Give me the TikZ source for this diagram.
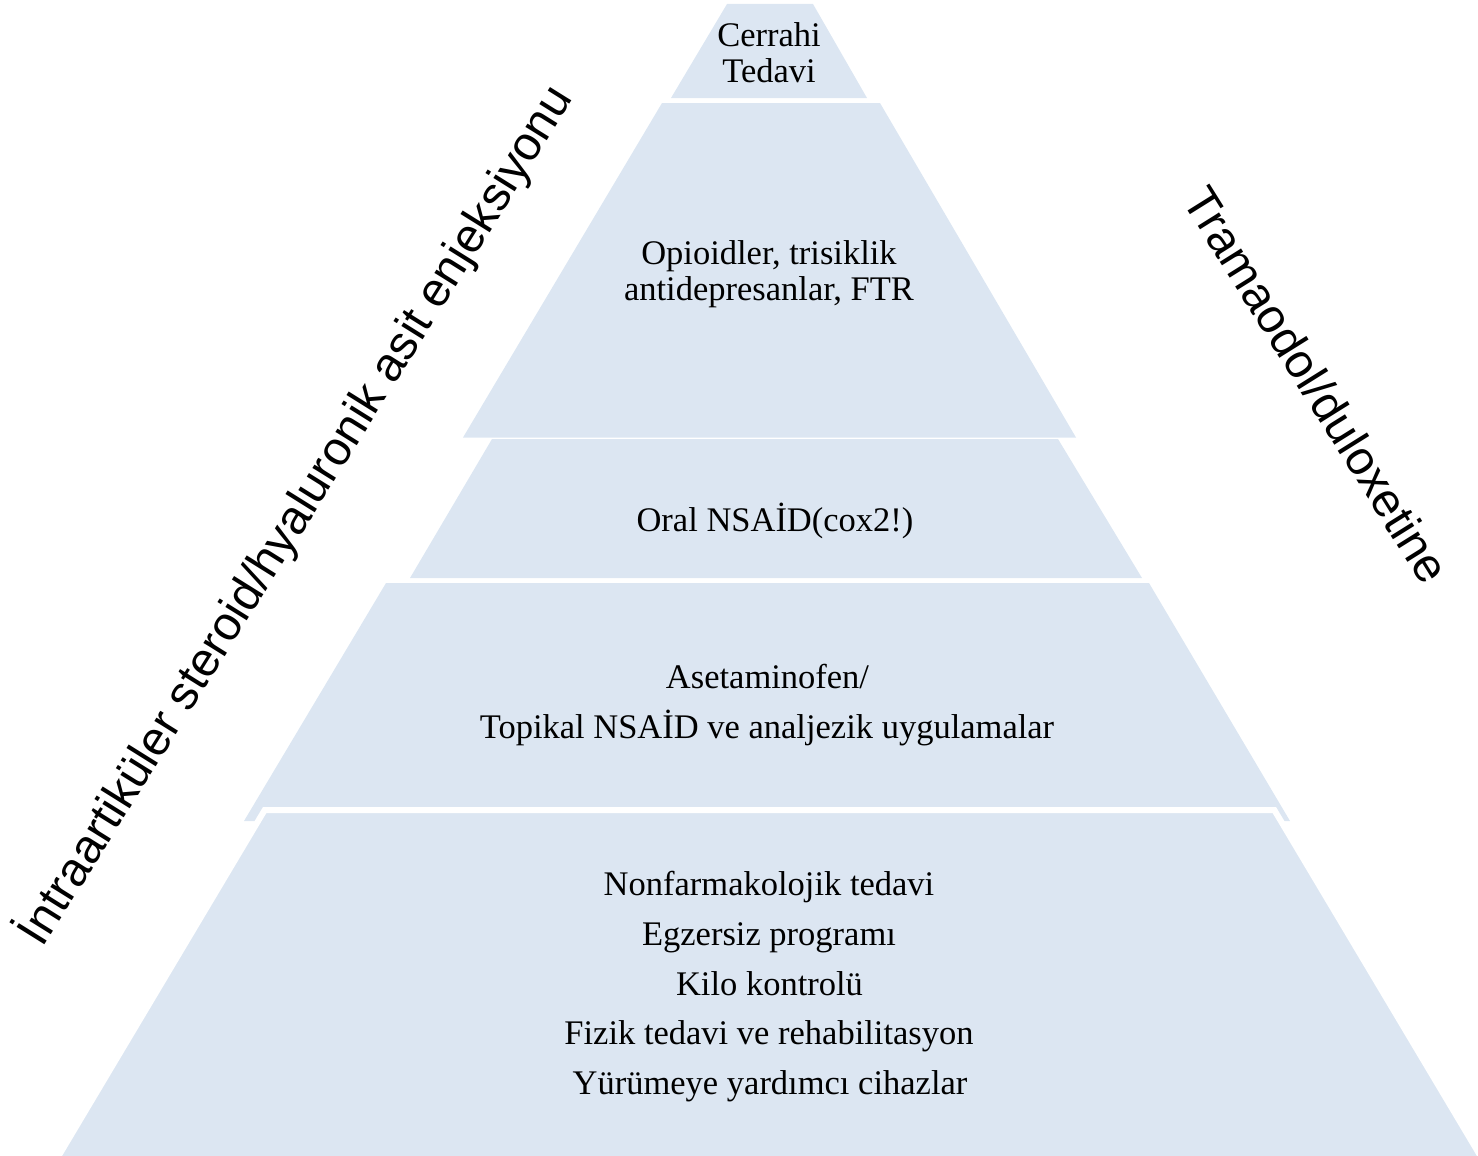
\documentclass[tikz,border=0pt]{standalone}
\usepackage{fontspec}
\setmainfont{Liberation Serif}
\newfontfamily\arialfont{Liberation Sans}
\definecolor{tierblue}{RGB}{220,230,242}
\begin{document}
\begin{tikzpicture}[x=1pt,y=-1pt,
  tier/.style={fill=tierblue},
  lbl/.style={anchor=base, inner sep=0pt, font=\fontsize{34.5}{36}\selectfont},
  side/.style={inner sep=0pt, font=\arialfont\fontsize{47.6}{50}\selectfont}]
\useasboundingbox (0,0) rectangle (1478,1156);
\clip (0,0) rectangle (1478,1156);
% tiers
\fill[tier] (727,4) -- (813,4) -- (867,98) -- (671,98) -- cycle;
\fill[tier] (662,103) -- (880,103) -- (1076,437.5) -- (463,437.5) -- cycle;
\fill[tier] (492,439) -- (1058,439) -- (1142,578) -- (410,578) -- cycle;
\fill[tier] (386,583) -- (1149,583) -- (1290,821) -- (244,821) -- cycle;
\filldraw[tier, draw=white, line width=6pt, line join=miter]
  (264.7,810) -- (1274.3,810) -- (1490,1172) -- (49,1172) -- cycle;
% tier texts
\node[lbl] (c1) at (769,47) {Cerrahi};
\node[lbl] (c2) at (769,82) {Tedavi};
\node[lbl] (o1) at (769,264) {Opioidler, trisiklik};
\node[lbl] (o2) at (769,300) {antidepresanlar, FTR};
\node[lbl] (n1) at (775,531) {Oral NSAİD(cox2!)};
\node[lbl] (a1) at (767.5,688) {Asetaminofen/};
\node[lbl] (a2) at (767,738) {Topikal NSAİD ve analjezik uygulamalar};
\node[lbl] (b1) at (769,895) {Nonfarmakolojik tedavi};
\node[lbl] (b2) at (769,945) {Egzersiz programı};
\node[lbl] (b3) at (769.5,995) {Kilo kontrolü};
\node[lbl] (b4) at (769,1044) {Fizik tedavi ve rehabilitasyon};
\node[lbl] (b5) at (770,1094) {Yürümeye yardımcı cihazlar};
% side texts
\node[side, rotate=58] (lside) at (295,515) {İntraartiküler steroid/hyaluronik asit enjeksiyonu};
\node[side, rotate=-58] (rside) at (1317,385) {Tramaodol/duloxetine};
\end{tikzpicture}
\end{document}
